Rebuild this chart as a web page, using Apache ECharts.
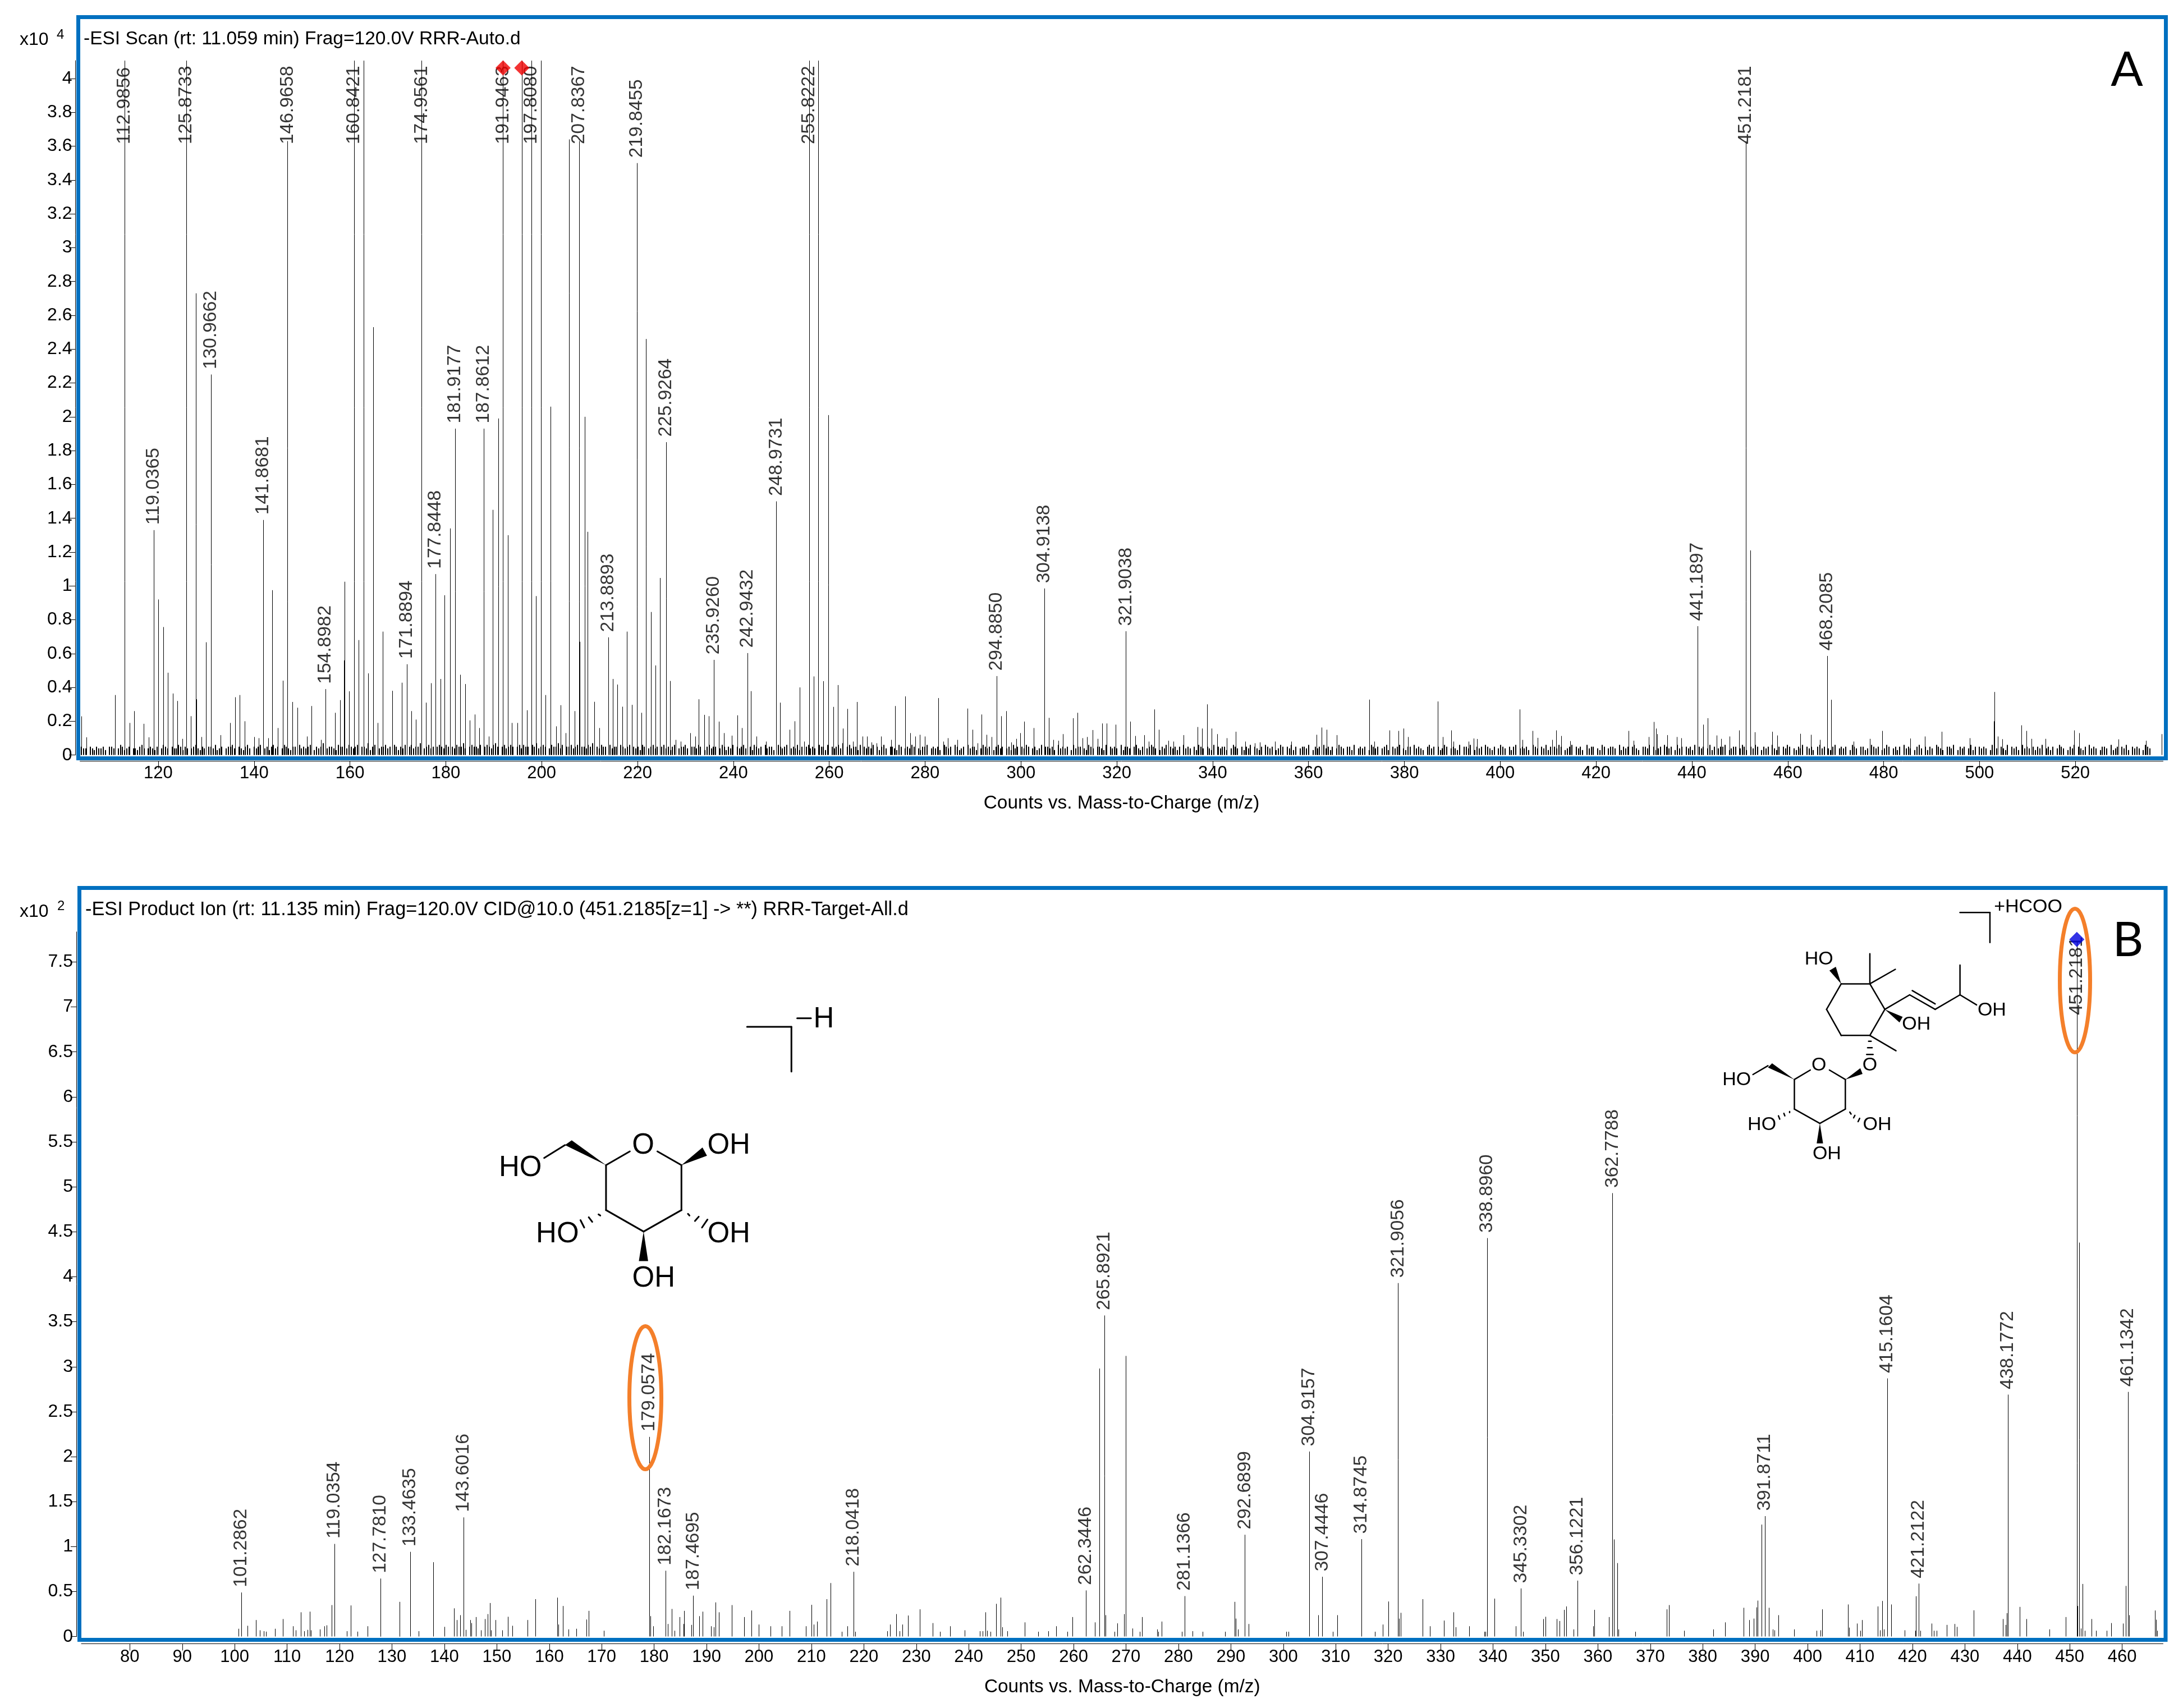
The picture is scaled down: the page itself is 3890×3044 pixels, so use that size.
<!DOCTYPE html>
<html><head><meta charset="utf-8">
<style>html,body{margin:0;background:#fff}#c{width:3890px;height:3044px}</style>
<script src="https://cdn.jsdelivr.net/npm/echarts@6/dist/echarts.min.js"></script>
</head><body><div id="c"></div>
<script>
// ---------- Panel A (x10^4 counts) ----------
const titleA = "-ESI Scan (rt: 11.059 min) Frag=120.0V RRR-Auto.d";
const xTicksA = [120,140,160,180,200,220,240,260,280,300,320,340,360,380,400,420,440,460,480,500,520];
const yTicksA = [0,0.2,0.4,0.6,0.8,1,1.2,1.4,1.6,1.8,2,2.2,2.4,2.6,2.8,3,3.2,3.4,3.6,3.8,4];
const labelledMzA = [112.9856,119.0365,125.8733,130.9662,141.8681,146.9658,154.8982,160.8421,171.8894,174.9561,177.8448,181.9177,187.8612,191.9463,197.8080,207.8367,213.8893,219.8455,225.9264,235.9260,242.9432,248.9731,255.8222,294.8850,304.9138,321.9038,441.1897,451.2181,468.2085];
const labelledHA = [4.5,1.33,4.5,2.25,1.39,3.63,0.39,4.5,0.537,4.5,1.07,1.93,1.93,4.5,4.5,3.63,0.696,3.5,1.85,0.563,0.603,1.5,4.5,0.467,0.985,0.732,0.762,3.63,0.586];
const precursorsA = [191.9463,195.85];
const peaksA = [[104,.229],[105,.105],[111,.355],[114,.19],[115,.26],[117,.185],[118,.105],[120,.92],[121,.757],[122,.487],[123,.364],[124,.32],[125,.096],[126.8,.23],[127.9,2.73],[127.95,.33],[129,.107],[129.9,.355],[130,.667],[133,.118],[135,.19],[136,.342],[137,.355],[138,.2],[140,.107],[141,.1],[143,.1],[143.8,.975],[145,.16],[146,.44],[148,.314],[149,.28],[151,.11],[152,.29],[154,.09],[156.9,.25],[157.9,.325],[158.8,.56],[158.9,1.025],[159.8,.377],[161.8,.68],[162.8,4.5],[163.8,.483],[164.8,2.53],[164.85,1.82],[165.8,.19],[166.8,.73],[166.85,.235],[168.8,.38],[170.8,.428],[172.8,.26],[173.8,.21],[175.9,.31],[176.85,.425],[176.95,.357],[178.9,.45],[179.7,.945],[180.9,1.34],[182,.557],[183,.475],[184,.42],[185,.205],[186,.24],[187,.16],[189,.11],[189.8,1.45],[190.9,1.99],[192.9,1.3],[193.8,.19],[194.9,.19],[195.85,4.5],[196.9,.265],[197.9,.72],[198.8,.94],[199.8,4.5],[200.8,.355],[201.8,2.06],[203,.17],[204,.295],[205,.13],[205.7,3.64],[206.9,.26],[207.9,.67],[209,2],[209.6,1.32],[211,.315],[212,.16],[214.8,.45],[215.8,.417],[216.85,.286],[217.8,.73],[218.8,.297],[220.8,.25],[221.8,2.46],[222.8,.846],[223.8,.53],[224.7,1.047],[226.8,.438],[228,.09],[229,.08],[231,.13],[232,.11],[232.8,.33],[233.9,.238],[234.9,.23],[237,.198],[238,.13],[239.7,.115],[240.8,.235],[241.8,.16],[243.7,.378],[244.8,.11],[246.8,.08],[249.7,.31],[251.7,.15],[252.8,.2],[253.8,.4],[254.8,.08],[256.8,.465],[257.7,4.5],[258.8,.437],[259.8,2.01],[260.9,.285],[261.8,.414],[262.8,.157],[263.8,.273],[264.9,.08],[265.8,.314],[266.9,.11],[267.9,.11],[268.8,.075],[269.9,.07],[270.8,.11],[272.9,.09],[273.7,.29],[275.8,.347],[276.9,.13],[277.9,.11],[278.9,.12],[279.9,.11],[282.7,.337],[283.8,.08],[284.8,.1],[286.7,.09],[288.9,.275],[289.9,.15],[290.9,.07],[291.8,.24],[292.8,.12],[293.9,.107],[295.9,.23],[296.9,.26],[298,.075],[299,.096],[299.8,.13],[300.7,.198],[302.7,.16],[305.8,.22],[306.8,.09],[307.8,.085],[308.7,.124],[310.8,.218],[311.8,.25],[312.8,.1],[313.8,.107],[314.9,.148],[316,.096],[316.9,.187],[317.9,.187],[319.8,.18],[322.8,.198],[323.8,.113],[325.7,.118],[326.7,.08],[327.8,.27],[328.8,.15],[330.8,.085],[331.8,.08],[333.9,.118],[336.8,.166],[337.8,.157],[338.8,.3],[339.8,.157],[341,.124],[342.9,.1],[344.8,.138],[346.8,.08],[348.8,.07],[349.8,.075],[353,.08],[356.4,.08],[361.7,.12],[362.7,.163],[363.8,.15],[365.9,.118],[372.7,.328],[373.7,.08],[376.9,.146],[378.8,.143],[379.8,.157],[380.8,.107],[387,.317],[388,.107],[389.8,.146],[390.2,.08],[393.4,.08],[394.4,.098],[395.2,.095],[404,.27],[404.7,.09],[406.8,.143],[407.8,.102],[410.8,.09],[411.7,.146],[412.7,.113],[414.6,.083],[426.8,.143],[427.8,.085],[431,.107],[432,.196],[432.5,.157],[432.8,.124],[434.9,.118],[436.8,.107],[437.8,.1],[442.3,.18],[443.3,.218],[445.1,.116],[446.1,.096],[447.9,.11],[449.8,.146],[452.2,1.21],[453.1,.135],[456.8,.138],[457.8,.116],[462.6,.126],[464.8,.12],[466.7,.09],[469.1,.327],[473.7,.08],[477.1,.096],[479.7,.143],[485.6,.098],[488.6,.11],[492.1,.138],[498,.1],[503,.2],[503.1,.373],[503.8,.11],[504.8,.094],[508.7,.176],[509.8,.143],[510.8,.096],[513.8,.096],[519.7,.146],[520.8,.13],[529,.093],[534.7,.085],[538,.124]];
// noise floor, hundredths of x10^4, read left to right from m/z 104 every 0.45
const noiseStartA = 104, noiseStepA = 0.45;
const noiseA = [
5,4,4,0,5,4,3,5,4,4,5,3,0,5,5,4,0,4,6,5,3,4,5,0,4,4,3,5,6,4,0,4,5,4,3,5,0,4,6,5,
4,0,5,4,4,6,5,3,5,4,0,4,5,6,4,3,5,4,0,5,5,4,6,3,4,5,0,4,5,5,6,4,0,5,4,3,5,6,4,0,
5,4,5,6,0,4,5,3,5,6,4,5,0,4,6,5,4,3,5,5,0,6,4,5,4,5,6,0,3,5,4,5,7,0,4,5,5,4,3,6,
5,5,0,4,6,5,4,5,6,0,5,5,4,7,3,5,6,0,4,5,5,6,4,5,0,6,5,3,5,4,6,0,5,6,4,5,5,7,0,4,
5,6,4,5,0,5,6,5,4,6,5,0,5,4,6,5,5,7,4,0,5,6,5,5,4,6,0,5,6,5,4,6,7,5,0,5,6,4,5,6,
5,0,5,6,4,6,5,5,0,6,5,7,4,5,6,5,0,4,6,5,5,7,4,6,0,5,5,6,4,5,6,0,5,5,4,6,5,7,0,5,
4,6,5,5,0,6,4,5,5,0,6,5,4,5,6,0,5,4,5,3,6,5,0,4,5,6,4,5,0,5,6,4,5,3,5,6,0,4,5,5,
6,4,0,5,5,4,6,5,0,3,5,6,4,5,5,0,4,6,5,3,5,4,6,0,5,4,5,6,4,0,5,3,6,5,4,5,0,6,4,5,
5,3,0,6,5,4,5,6,0,4,5,4,6,3,5,0,5,6,4,5,4,0,6,5,5,3,6,0,5,4,5,6,4,7,0,5,6,4,5,5,
3,6,0,5,4,5,4,6,0,5,3,5,6,4,0,5,5,4,3,6,5,0,4,5,4,6,5,0,4,3,5,5,6,0,4,5,4,5,3,0,
6,5,4,5,0,6,5,3,4,5,0,6,4,5,5,3,0,4,6,5,4,5,0,3,5,6,4,5,0,4,5,3,6,4,5,0,5,4,6,5,
0,4,5,3,4,6,0,5,5,4,5,3,0,6,4,5,4,5,0,3,6,4,5,5,0,4,3,6,5,4,0,5,5,4,3,6,0,5,4,5,
4,0,6,3,5,5,4,0,5,6,4,3,5,0,4,5,6,5,4,0,3,5,4,6,0,5,4,5,3,5,0,6,4,5,4,0,5,3,6,5,
4,0,5,4,3,6,0,5,4,5,5,3,0,4,6,5,4,0,5,3,5,4,6,0,5,4,3,5,0,6,5,4,5,0,3,4,6,5,0,5,
4,6,3,5,0,4,5,5,4,6,0,3,5,4,5,0,6,4,5,3,5,0,4,6,5,4,0,5,5,3,6,0,4,5,4,5,0,3,6,5,
4,5,0,4,5,6,3,0,5,4,5,6,0,4,3,5,5,0,6,4,5,4,3,0,5,6,4,5,0,5,3,4,6,5,0,4,5,4,3,6,
0,5,5,4,6,0,3,5,4,5,0,6,5,4,3,5,0,4,6,5,4,0,5,3,5,6,0,4,5,4,5,3,0,6,5,4,0,5,4,6,
3,5,0,5,4,6,5,0,3,4,5,6,0,5,4,5,3,0,6,4,5,5,0,4,3,6,5,0,4,5,5,4,0,6,3,5,4,5,0,5,
6,4,3,0,5,5,4,6,0,5,3,4,5,0,6,5,4,5,0,3,6,4,5,0,5,4,5,3,6,0,5,4,5,0,4,6,3,5,0,4,
5,5,6,0,3,4,5,5,0,4,6,5,3,0,5,4,6,5,0,3,5,4,5,0,6,4,3,5,0,5,4,6,5,0,4,3,5,4,6,0,
5,4,5,3,0,5,6,4,5,0,4,3,5,6,0,4,5,4,5,0,3,6,5,4,0,5,5,3,4,0,6,5,4,5,0,3,4,6,5,0,
4,5,3,5,0,6,4,5,4,0,3,5,6,4,0,5,3,5,4,0,6,5,4,3,0,5,5,4,6,0,3,5,4,5,0,4,6,3,5,0,
5,4,5,4,0,3,6,5,4,0,5,4,3,6,0,5,4,5,3,0,6,4,5,4,0,5,3,5,4,6,0,4,5,3,5,0,4,6,5,4,
0,3,5,4,6,0,5,4,3,5,0,6,4,5,4,0,3,5,5,4,0,6,3,4,5,0,5,4,6,3,0,5,4,5,4,0,3,6,5,4];

// ---------- Panel B (x10^2 counts) ----------
const titleB = "-ESI Product Ion (rt: 11.135 min) Frag=120.0V CID@10.0 (451.2185[z=1] -> **) RRR-Target-All.d";
const xTicksB = [80,90,100,110,120,130,140,150,160,170,180,190,200,210,220,230,240,250,260,270,280,290,300,310,320,330,340,350,360,370,380,390,400,410,420,430,440,450,460];
const yTicksB = [0,0.5,1,1.5,2,2.5,3,3.5,4,4.5,5,5.5,6,6.5,7,7.5];
const labelledMzB = [101.2862,119.0354,127.7810,133.4635,143.6016,179.0574,182.1673,187.4695,218.0418,262.3446,265.8921,281.1366,292.6899,304.9157,307.4446,314.8745,321.9056,338.8960,345.3302,356.1221,362.7788,391.8711,415.1604,421.2122,438.1772,451.2181,461.1342];
const labelledHB = [.49,1.03,.645,.942,1.325,2.22,.732,.455,.72,.513,3.57,.45,1.132,2.057,.665,1.083,3.93,4.43,.535,.622,4.93,1.339,2.87,.589,2.69,7.72,2.72];
const precursorsB = [451.35];
const peaksB = [[100.7,.087],[102.4,.12],[104,.184],[104.8,.07],[105.5,.06],[106,.055],[107.7,.087],[109.2,.195],[111.1,.115],[111.7,.07],[112.6,.27],[113.3,.06],[113.9,.075],[114.3,.277],[114.5,.07],[116.2,.08],[117.1,.115],[117.5,.125],[118.5,.35],[121.4,.06],[122.1,.346],[123.4,.055],[125.3,.115],[125.4,.108],[127.85,.364],[131.5,.386],[131.45,.25],[135.1,.06],[137.9,.827],[140,.108],[141.8,.314],[142.4,.184],[143,.238],[144.1,.075],[144.9,.184],[145.2,.15],[146,.217],[147,.07],[147.7,.195],[148.2,.25],[148.7,.373],[148.9,.07],[149.7,.184],[151,.07],[152.1,.22],[153,.12],[155.9,.184],[157.4,.416],[161.5,.433],[161.7,.134],[162.6,.34],[163.7,.08],[165.2,.087],[167.1,.19],[167.5,.286],[170.4,.065],[179.3,.227],[179.8,.115],[182.6,.14],[183.4,.307],[183.9,.065],[184.9,.217],[185.6,.14],[185.7,.286],[187.1,.13],[188.6,.227],[189.2,.277],[190.9,.115],[191.4,.104],[191.7,.38],[192.3,.27],[194.8,.35],[197.2,.217],[198.6,.29],[199.9,.134],[202.2,.115],[204.3,.115],[205.8,.286],[208.9,.115],[210,.353],[210.4,.134],[211.1,.167],[212.9,.416],[213.6,.595],[215.8,.054],[216.9,.115],[218.4,.054],[224.5,.06],[225,.134],[226.2,.25],[226.8,.06],[227.4,.134],[228.4,.234],[230.7,.303],[233.1,.15],[234.5,.054],[236.4,.115],[239.2,.07],[242.1,.06],[242.7,.06],[243.2,.27],[243.5,.065],[244.2,.054],[245.2,.364],[246.05,.433],[246.4,.104],[247.4,.06],[250.7,.158],[253.3,.054],[255.2,.06],[256.7,.115],[258.8,.054],[259.8,.217],[264.1,.158],[264.9,2.98],[266.1,.238],[267.8,.054],[268.3,.147],[269.6,.25],[270,3.12],[271.2,.09],[272.6,.054],[273.1,.217],[275.9,.08],[276.2,.054],[276.8,.167],[280.6,.054],[282.7,.06],[284.6,.054],[288.9,.054],[290.7,.386],[290.9,.2],[291.4,.08],[293.4,.14],[300.6,.054],[301,.054],[306.7,.238],[309.4,.054],[310.3,.238],[317.5,.054],[319,.134],[320,.39],[322.1,.2],[322.4,.264],[326.6,.416],[328,.115],[330.6,.178],[332.5,.27],[332.9,.104],[335.5,.115],[338.3,.054],[338.6,.054],[340.3,.422],[344.3,.115],[345.7,.054],[349.6,.195],[350,.22],[352.2,.195],[352.7,.173],[353.5,.297],[354,.335],[355.4,.08],[359.1,.115],[359.3,.297],[362.1,.217],[363.07,1.08],[363.7,.817],[363.9,.08],[367.1,.054],[373.1,.303],[373.6,.35],[376.5,.065],[382,.08],[384.3,.158],[387.8,.32],[388.9,.184],[389.7,.2],[390.3,.325],[390.5,.4],[391.2,1.245],[392.6,.32],[393.4,.08],[393.7,.07],[394.4,.238],[397.4,.08],[401.7,.065],[402.5,.07],[402.8,.303],[407.7,.357],[407.9,.1],[409.4,.145],[410.1,.065],[410.4,.184],[413.4,.335],[413.8,.07],[414.2,.396],[414.6,.08],[415.95,.357],[418.5,.07],[420.5,.065],[420.7,.448],[421.5,.065],[423.6,.145],[424.1,.065],[424.6,.065],[426.5,.13],[428,.14],[428.5,.108],[431.7,.292],[437.2,.195],[437.8,.13],[438,.26],[440.4,.33],[441.7,.195],[446.1,.08],[449.2,.217],[451.5,.34],[451.8,4.38],[452.15,.09],[452.4,.585],[452.85,.065],[454.1,.195],[455,.065],[457,.065],[457.9,.15],[460.2,.145],[460.7,.563],[461.3,.238],[466.3,.29],[466.5,.188],[466.7,.065]];

// ---------- fixed layout ----------
const font = '"Liberation Sans", Arial, sans-serif';
const blue = '#0070C0', orange = '#F47F2A';
const rowsOf = (mz, h) => mz.map((m, i) => [m, h[i]]);
const noiseRows = noiseA.map((v, i) => [noiseStartA + i * noiseStepA, v / 100]);
const labelRows = (mz, h, cap, shown) => mz.map((m, i) => [shown && shown[i] !== undefined ? shown[i] : m, Math.min(h[i], cap), m.toFixed(4)]);

function stick(params, api, width) {
  const b = api.coord([api.value(0), 0]), t = api.coord([api.value(0), api.value(1)]);
  const x = Math.round(b[0]) + (width % 2 ? 0.5 : 0);
  return { type: 'line', silent: true,
    shape: { x1: x, y1: b[1], x2: x, y2: Math.max(t[1], params.coordSys.y) },
    style: { stroke: '#000', lineWidth: width } };
}
const sticks = (data, i, width) => ({ type: 'custom', xAxisIndex: i, yAxisIndex: i, data, renderItem: (p, a) => stick(p, a, width || 1),
  encode: { x: 0, y: 1 }, silent: true, animation: false, clip: true, z: 2 });
const peakLabels = (data, i) => ({ type: 'scatter', xAxisIndex: i, yAxisIndex: i, data, symbolSize: 1, silent: true, animation: false, z: 3,
  itemStyle: { color: 'rgba(0,0,0,0)' }, labelLayout: { hideOverlap: false },
  label: { show: true, position: 'top', distance: 9, rotate: 90, align: 'left', verticalAlign: 'middle',
    fontFamily: font, fontSize: 33.5, color: '#000', formatter: p => p.value[2] } });
const diamonds = (data, i, color, size) => ({ type: 'scatter', xAxisIndex: i, yAxisIndex: i, data, symbol: 'diamond', symbolSize: size,
  silent: true, animation: false, z: 12, itemStyle: { color } });

const xAxis = (i, min, max, ticks, offset, tickLen, margin, nameGap) => ({
  type: 'value', gridIndex: i, min, max, offset, position: 'bottom',
  name: 'Counts vs. Mass-to-Charge (m/z)', nameLocation: 'middle', nameGap,
  nameTextStyle: { fontFamily: font, fontSize: 33.4, color: '#000', verticalAlign: 'middle' },
  axisLine: { show: true, onZero: false, lineStyle: { color: '#000', width: 1 } },
  axisTick: { show: true, length: tickLen, customValues: ticks, lineStyle: { color: '#000', width: 1 } },
  axisLabel: { show: true, customValues: ticks, margin, fontFamily: font, fontSize: 31, color: '#000', formatter: v => String(v) },
  splitLine: { show: false } });
const yAxis = (i, max, ticks, offset, tickLen) => ({
  type: 'value', gridIndex: i, min: 0, max, offset, position: 'left',
  axisLine: { show: true, onZero: false, lineStyle: { color: '#000', width: 1 } },
  axisTick: { show: true, length: tickLen, customValues: ticks, lineStyle: { color: '#000', width: 1 } },
  axisLabel: { show: true, customValues: ticks, margin: 6, fontFamily: font, fontSize: 32, color: '#000', formatter: v => String(v) },
  splitLine: { show: false } });

// ---------- structures, drawn with the coordinates of their own crops ----------
const gluMap = (x, y) => [800 + x / 2.24, 1750 + y / 1.96];
const hcooMap = (x, y) => [3000 + x / 1.762, 1540 + y / 2.24];
const gluLines = [[627,640,722,592],[832,592,928,640],[928,640,928,797],[928,797,777,872],[777,872,627,797],[627,797,627,640],[463,570,380,615],[597,812,604,816],[558,822,572,838],[525,832,540,858],[954,810,960,816],[982,835,997,820],[1010,858,1032,830],[1190,157,1367,157],[1367,157,1367,313],[1390,127,1445,127]];
const gluWedges = [[627,640,463,570,490,553],[928,640,1012,578,1030,607],[777,872,758,975,795,975]];
const gluTexts = [['HO',285,650],['O',775,573],['OH',1117,573],['HO',433,882],['OH',1117,882],['OH',817,1037],['H',1496,132]];
const hcooLines = [[868,193,962,193],[962,193,962,313],[495,478,585,478],[585,478,632,580],[632,580,585,684],[585,684,495,684],[495,684,449,580],[449,580,495,478],[585,478,585,358],[585,478,665,420],[632,580,710,522],[710,522,790,580],[790,580,868,522],[718,505,790,558],[868,522,868,403],[868,522,920,562],[585,684,667,745],[581,707,589,707],[578,733,592,733],[575,760,595,760],[348,860,398,822],[458,822,508,860],[508,860,508,978],[508,978,428,1035],[428,1035,348,978],[348,978,348,860],[265,805,218,840],[333,988,333,992],[315,995,318,1005],[298,1005,302,1018],[522,990,526,998],[538,1003,534,1013],[553,1015,548,1028]];
const hcooWedges = [[495,478,458,425,478,410],[632,580,678,632,688,610],[508,860,555,815,562,838],[348,860,265,812,278,795],[428,1035,418,1115,438,1115]];
const hcooTexts = [['+HCOO',1082,172],['HO',425,380],['OH',968,583],['OH',731,640],['O',585,803],['O',425,803],['HO',167,862],['HO',246,1040],['OH',608,1040],['OH',450,1157]];
const molecule = (map, lines, wedges, texts, size, lw) => [
  ...lines.map(l => { const a = map(l[0], l[1]), b = map(l[2], l[3]);
    return { type: 'line', z: 20, silent: true, shape: { x1: a[0], y1: a[1], x2: b[0], y2: b[1] }, style: { stroke: '#000', lineWidth: lw, lineCap: 'round' } }; }),
  ...wedges.map(w => ({ type: 'polygon', z: 20, silent: true, shape: { points: [map(w[0], w[1]), map(w[2], w[3]), map(w[4], w[5])] }, style: { fill: '#000' } })),
  ...texts.map(t => { const a = map(t[1], t[2]);
    return { type: 'text', z: 20, silent: true, x: a[0], y: a[1], style: { text: t[0], font: size + 'px ' + font, fill: '#000', align: 'center', verticalAlign: 'middle' } }; })
];
const label = (text, x, y, size, f, align) => ({ type: 'text', z: 25, silent: true, x, y,
  style: { text, font: size + 'px ' + (f || font), fill: '#000', align: align || 'left', verticalAlign: 'middle' } });
const frame = (x1, y1, x2, y2) => ({ type: 'rect', z: 15, silent: true, shape: { x: x1, y: y1, width: x2 - x1, height: y2 - y1 },
  style: { fill: 'none', stroke: blue, lineWidth: 7 } });
const ring = (cx, cy, rx, ry) => ({ type: 'ellipse', z: 22, silent: true, shape: { cx, cy, rx, ry }, style: { fill: 'none', stroke: orange, lineWidth: 7 } });

const chart = echarts.init(document.getElementById('c'), null, { renderer: 'canvas', width: 3890, height: 3044 });
chart.setOption({
  animation: false, backgroundColor: '#fff',
  grid: [
    { left: 142.6, right: 3890 - 3854.5, top: 108, height: 1345.7 - 108, containLabel: false },
    { left: 145, right: 3890 - 3854.5, top: 1660.7, height: 2916.7 - 1660.7, containLabel: false }
  ],
  xAxis: [ xAxis(0, 103.68, 538.3, xTicksA, 11, 13, 6, 75), xAxis(1, 70.76, 467.8, xTicksB, 12.8, 12, 8, 77) ],
  yAxis: [ yAxis(0, 4.106, yTicksA, 8, 11.5), yAxis(1, 7.835, yTicksB, 9, 10) ],
  series: [
    sticks(noiseRows, 0, 2),
    sticks(peaksA, 0),
    sticks(rowsOf(labelledMzA, labelledHA), 0),
    peakLabels(labelRows(labelledMzA, labelledHA, 3.58), 0),
    diamonds(precursorsA.map(m => [m, 4.063]), 0, '#F00000', 27),
    sticks(peaksB, 1),
    sticks(labelledMzB.map((m, i) => [m === 451.2181 ? precursorsB[0] : m, labelledHB[i]]), 1),
    peakLabels(labelRows(labelledMzB, labelledHB, 6.85, labelledMzB.map(m => m === 451.2181 ? precursorsB[0] : m)), 1),
    diamonds(precursorsB.map(m => [m, 7.75]), 1, '#0000E0', 27)
  ],
  graphic: { elements: [
    frame(139.5, 30.5, 3859.5, 1351.5),
    frame(141.5, 1582.5, 3859, 2922.5),
    label(titleA, 149, 70, 33.5),
    label(titleB, 152, 1622, 34.3),
    label('x10', 35, 71, 32), label('4', 101, 62, 24),
    label('x10', 35, 1625, 32), label('2', 102, 1615, 24),
    label('A', 3790, 126, 85, '"Lato", sans-serif', 'center'),
    label('B', 3792, 1677, 85, '"Lato", sans-serif', 'center'),
    ring(1150, 2491, 28.5, 127.5),
    ring(3697.5, 1747.5, 27, 128),
    ...molecule(gluMap, gluLines, gluWedges, gluTexts, 51, 3),
    ...molecule(hcooMap, hcooLines, hcooWedges, hcooTexts, 34, 2.5)
  ] }
});
</script></body></html>
